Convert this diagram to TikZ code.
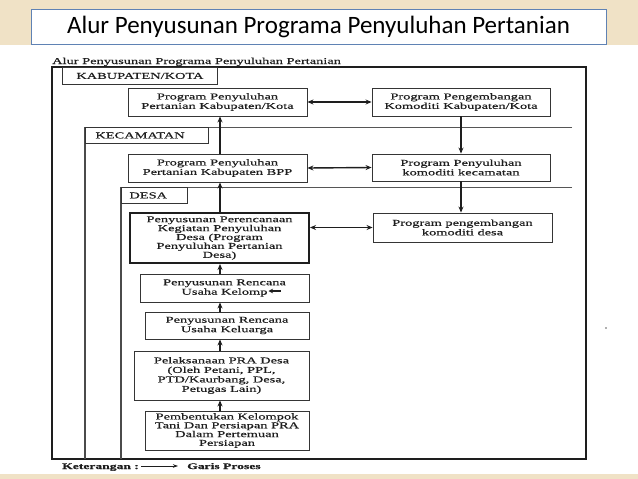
\documentclass[tikz,border=0pt]{standalone}
\usepackage{fontspec}
\usetikzlibrary{arrows.meta,calc}
\newfontfamily\scanfont[FakeStretch=1.6,FakeBold=0.5]{Liberation Serif}
\newfontfamily\titlefont{Carlito}
\definecolor{parch}{RGB}{240,226,198}
\definecolor{ink}{RGB}{30,30,30}
\definecolor{titleblue}{RGB}{95,130,180}
\begin{document}
\begin{tikzpicture}[x=1pt,y=-1pt,
  box/.style={draw=ink!90, line width=0.9pt, fill=white, align=center, inner sep=1pt, text=ink,
    font=\scanfont\fontsize{9}{9.5}\selectfont},
  lbl/.style={draw=ink!90, line width=0.9pt, fill=white, text=ink, anchor=north west, inner ysep=0pt,
    font=\scanfont\fontsize{9}{10}\selectfont},
  arr/.style={line width=1.4pt, draw=ink, -{Stealth[length=6pt,width=5pt]}},
  darr/.style={line width=1.4pt, draw=ink, {Stealth[length=6pt,width=5pt]}-{Stealth[length=6pt,width=5pt]}},
  frame/.style={draw=ink, line width=1.3pt},
  sub/.style={draw=ink!75, line width=0.9pt},
  subv/.style={draw=ink!80, line width=1.3pt},
  plain/.style={text=ink, inner sep=0pt, anchor=base west}]
\useasboundingbox (0,0) rectangle (638,479);
\fill[parch] (0,0) rectangle (638,479);
\fill[white] (0,45) rectangle (638,474);
% title
\node[draw=titleblue, line width=1pt, fill=white, minimum width=575pt, minimum height=35pt,
  font=\titlefont\fontsize{25}{28}\selectfont, text=black] (title) at (318.5,26.5)
  {Alur Penyusunan Programa Penyuluhan Pertanian};
% header
\node[plain, font=\scanfont\fontsize{9}{10}\selectfont] (hdr) at (52,64)
  {\underline{Alur Penyusunan Programa Penyuluhan Pertanian}};
% frames
\draw[frame] (52,67) rectangle (586,459);
\draw[sub] (572,127) -- (85,127);
\draw[subv] (85,127) -- (85,459);
\draw[sub] (572,187) -- (121,187);
\draw[subv] (121,187) -- (121,459);
% level labels
\node[lbl, minimum width=155pt, minimum height=17pt] (kab) at (62,67) {KABUPATEN/KOTA};
\node[lbl, text width=103pt, inner xsep=10pt, align=left, minimum height=16pt] (kec) at (85,127) {KECAMATAN};
\node[lbl, text width=50pt, inner xsep=8pt, align=left, minimum height=16pt] (desa) at (121,187) {DESA};
% boxes
\node[box, minimum width=179pt, minimum height=28pt] (b1) at (217.5,102)
  {Program Penyuluhan\\Pertanian Kabupaten/Kota};
\node[box, minimum width=178pt, minimum height=28pt] (b2) at (461,102)
  {Program Pengembangan\\Komoditi Kabupaten/Kota};
\node[box, minimum width=179pt, minimum height=28pt] (b3) at (217.5,168)
  {Program Penyuluhan\\Pertanian Kabupaten BPP};
\node[box, minimum width=178pt, minimum height=27pt] (b4) at (461,167.5)
  {Program Penyuluhan\\komoditi kecamatan};
\node[box, draw=ink, line width=2pt, minimum width=179pt, minimum height=50pt,
  font=\scanfont\fontsize{9}{8.9}\selectfont] (b5) at (219.5,238)
  {Penyusunan Perencanaan\\Kegiatan Penyuluhan\\Desa (Program\\Penyuluhan Pertanian\\Desa)};
\node[box, minimum width=179pt, minimum height=29pt] (b6) at (462.5,227.5)
  {Program pengembangan\\komoditi desa};
\node[box, minimum width=169pt, minimum height=28pt] (b7) at (224.5,288)
  {Penyusunan Rencana\\Usaha Kelomp};
\node[box, minimum width=164pt, minimum height=27pt] (b8) at (227,325.5)
  {Penyusunan Rencana\\Usaha Keluarga};
\node[box, minimum width=175pt, minimum height=49pt] (b9) at (221.5,375.5)
  {Pelaksanaan PRA Desa\\(Oleh Petani, PPL,\\PTD/Kaurbang, Desa,\\Petugas Lain)};
\node[box, minimum width=164pt, minimum height=39pt,
  font=\scanfont\fontsize{9}{8.8}\selectfont] (b10) at (227,430.5)
  {Pembentukan Kelompok\\Tani Dan Persiapan PRA\\Dalam Pertemuan\\Persiapan};
% arrows
\coordinate (ax) at (220,0);
\draw[darr] (b1.east) -- (b2.west);
\draw[darr] (b3.east) -- (b4.west);
\draw[darr] (b6.west -| b5.east) -- (b6.west);
\draw[arr] (b2.south) -- (b4.north);
\draw[arr] (b4.south) -- (b4.south |- b6.north);
\draw[arr] (b3.north -| ax) -- (b1.south -| ax);
\draw[arr] (b5.north -| ax) -- (b3.south -| ax);
\draw[arr] (b7.north -| ax) -- (b5.south -| ax);
\draw[arr] (b8.north -| ax) -- (b7.south -| ax);
\draw[arr] (b9.north -| ax) -- (b8.south -| ax);
\draw[arr] (b10.north -| ax) -- (b9.south -| ax);
% scan artefact arrow at end of "Kelomp"
\draw[line width=1.2pt, ink, -{Stealth[length=4.5pt,width=4.5pt]}] ($(b7.center)+(56,3)$) -- ($(b7.center)+(44,3)$);
% legend
\node[plain, font=\scanfont\bfseries\fontsize{8.5}{10}\selectfont] (ket) at (62,469) {Keterangan :};
\coordinate (la) at (141,466);
\coordinate (lb) at (178,466);
\draw[line width=0.8pt, ink, -{Stealth[length=5pt,width=3.5pt]}] (la) -- (lb);
\node[plain, font=\scanfont\bfseries\fontsize{8.5}{10}\selectfont] (gp) at (187,469) {Garis Proses};
% speck
\fill[ink!70] (606,328) circle (0.9pt);
\end{tikzpicture}
\end{document}
